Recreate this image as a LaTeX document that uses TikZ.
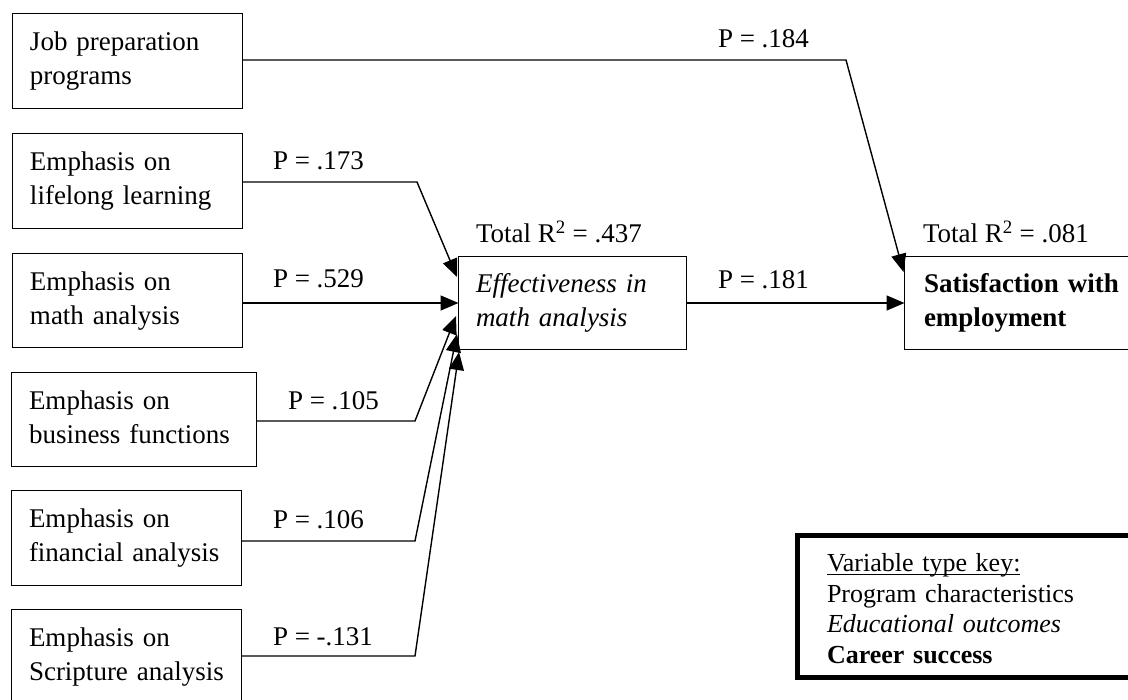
\documentclass[tikz,border=0pt]{standalone}
\usepackage{fontspec}
\setmainfont{Liberation Serif}
\usetikzlibrary{arrows.meta,calc}
% underline at a fixed depth, crossing the descenders
\newcommand\keyrule[1]{\setbox0\hbox{#1}\rlap{\rule[-3pt]{\wd0}{1.2pt}}\box0}
\begin{document}
\begin{tikzpicture}[x=1pt,y=-1pt,
  every node/.style={font=\fontsize{27}{34}\selectfont, inner sep=0pt, outer sep=0pt},
  varbox/.style={draw, line width=1.6pt, anchor=north west, align=left,
                 inner xsep=17.5pt, inner ysep=0pt, text width=#1},
  conn/.style={line width=1.4pt, -{Triangle[length=18pt,width=15pt]}},
  plabel/.style={anchor=base west}
]
\useasboundingbox (0,0) rectangle (1128,700);
\fill[white] (0,0) rectangle (1128,700);

% program characteristics
\node[varbox=195pt, minimum height=95pt] (job)  at (12.5,13.5)  {\strut Job preparation\\programs\strut};
\node[varbox=195pt, minimum height=95pt] (life) at (12.5,133.5) {\strut Emphasis on\\lifelong~learning\strut};
\node[varbox=195pt, minimum height=94pt] (math) at (12.5,253.5) {\strut Emphasis on\\math~analysis\strut};
\node[varbox=210pt, minimum height=94pt] (bus)  at (11.5,372.5) {\strut Emphasis on\\business~functions\strut};
\node[varbox=195pt, minimum height=95pt] (fin)  at (11.5,490.5) {\strut Emphasis on\\financial~analysis\strut};
\node[varbox=195pt, minimum height=95pt] (scr)  at (11.5,609.5) {\strut Emphasis on\\Scripture~analysis\strut};

% educational outcome and career success
\node[varbox=193pt, minimum height=93pt, font=\fontsize{27}{34}\selectfont\itshape] (effect) at (458.5,256.5)
  {\strut Effectiveness~in\\math~analysis\strut};
\node[varbox=201pt, inner xsep=19.5pt, minimum height=93pt, font=\fontsize{27}{34}\selectfont\bfseries] (satisf) at (904.5,256.5)
  {\strut Satisfaction~with\\employment\strut};

% bends and arrow ends
\coordinate (jobbend) at (846,60);
\coordinate (jobtip) at ($(satisf.north west)+(-1,15.5)$);
\coordinate (lifebend) at (417,182);
\coordinate (lifetip) at ($(effect.north west)+(-1.5,20.5)$);
\coordinate (busbend) at (415,421);
\coordinate (bustip) at ($(effect.west)+(-2.5,13)$);
\coordinate (finbend) at (415,541);
\coordinate (fintip) at ($(effect.west)+(-1.5,31)$);
\coordinate (scrbend) at (415,656);
\coordinate (scrtip) at ($(effect.south west)+(0.5,2.5)$);

% paths
\draw[conn] (job.east |- jobbend) -- (jobbend) -- (jobtip);
\draw[conn] (life.east |- lifebend) -- (lifebend) -- (lifetip);
\draw[conn] (math.east |- effect.west) -- (effect.west);
\draw[conn] (bus.east |- busbend) -- (busbend) -- (bustip);
\draw[conn] (fin.east |- finbend) -- (finbend) -- (fintip);
\draw[conn] (scr.east |- scrbend) -- (scrbend) -- (scrtip);
\draw[conn] (effect.east) -- (satisf.west);

% path coefficients
\node[plabel] (p184) at (718,48)  {P = .184};
\node[plabel] (p173) at (273,170) {P = .173};
\node[plabel] (p529) at (273,288) {P = .529};
\node[plabel] (p105) at (288,410) {P = .105};
\node[plabel] (p106) at (273,529) {P = .106};
\node[plabel] (p131) at (273,645) {P = -.131};
\node[plabel] (p181) at (718,289) {P = .181};
\node[plabel] (r437) at (476,243) {Total R\textsuperscript{2} = .437};
\node[plabel] (r081) at (923,243) {Total R\textsuperscript{2} = .081};

% key
\node[draw, line width=5pt, anchor=north west, align=left, text width=290pt,
      inner xsep=30pt, inner ysep=14.6pt, font=\fontsize{26}{30.4}\selectfont] (key) at (797,536)
  {\keyrule{Variable type key:}\strut\\Program characteristics\\\textit{Educational outcomes}\\\textbf{Career success}};
\end{tikzpicture}
\end{document}
